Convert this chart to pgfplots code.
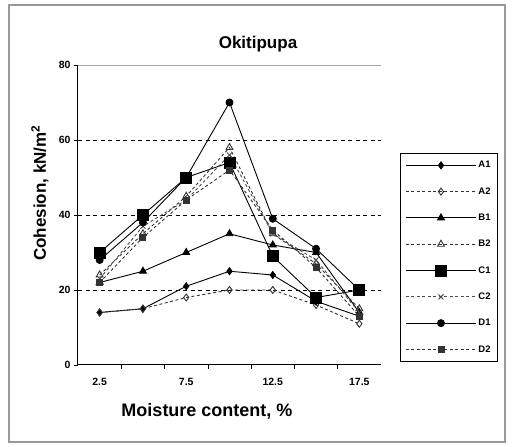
\documentclass[border=0pt]{standalone}
\usepackage{fontspec}
\setmainfont{Liberation Sans}
\usepackage{pgfplots}
\pgfplotsset{compat=1.18}
\begin{document}
\begin{tikzpicture}[x=1pt,y=1pt]
\useasboundingbox (0,0) rectangle (512,447);
\draw[black!40, line width=1.2pt] (9,5) rectangle (505,442);
\node[font=\fontsize{17}{19}\selectfont\bfseries] at (258,403) {Okitipupa};
\node[font=\fontsize{18}{20}\selectfont\bfseries] at (207,36) {Moisture content, \%};
\node[font=\fontsize{17}{19}\selectfont\bfseries, rotate=90] at (40,254) {Cohesion, kN/m\textsuperscript{2}};
\begin{axis}[
  at={(78pt,82pt)}, anchor=south west,
  width=303pt, height=300pt, scale only axis,
  xmin=1.25, xmax=18.75, ymin=0, ymax=80,
  axis x line*=bottom, axis y line*=left,
  axis line style={-, black, line width=1pt},
  xtick={2.5,7.5,12.5,17.5}, xticklabels={2.5,7.5,12.5,17.5},
  major x tick style={draw=none},
  minor xtick={3.75,6.25,8.75,11.25,13.75,16.25},
  minor x tick style={black, line width=0.6pt},
  minor tick length=4pt,
  ytick={0,20,40,60,80},
  major y tick style={black, line width=0.6pt},
  major tick length=4pt,
  tick align=outside,
  tick label style={font=\fontsize{10.5}{12}\selectfont\bfseries},
  /pgf/number format/assume math mode=true,
  xticklabel style={yshift=-6pt},
  legend cell align=left,
  legend style={at={(1.063,0.707)}, anchor=north west, draw=black, line width=0.9pt,
    font=\fontsize{9.5}{10}\selectfont\bfseries, row sep=14.2pt, inner ysep=6pt, inner xsep=5pt},
  legend image code/.code={\draw[mark repeat=2,mark phase=2,#1] plot coordinates {(0pt,0pt) (35pt,0pt) (70pt,0pt)};},
  clip=false,
]
\draw[black!35, line width=0.8pt] (axis cs:1.25,80) -- (axis cs:18.75,80);
\foreach \yy in {20,40,60} {
  \edef\temp{\noexpand\draw[black, line width=0.9pt, dash pattern=on 4pt off 3.5pt] (axis cs:1.25,\yy) -- (axis cs:18.75,\yy);}
  \temp
}
% A1
\addplot[black, line width=0.9pt, mark=diamond*, mark size=3.5pt] coordinates {(2.5,14) (5,15) (7.5,21) (10,25) (12.5,24) (15,17) (17.5,13)};
\addlegendentry{A1}
% A2
\addplot[black!80, line width=0.9pt, dash pattern=on 3pt off 2.5pt, mark=diamond, mark options={solid, fill=white}, mark size=3.5pt] coordinates {(2.5,14) (5,15) (7.5,18) (10,20) (12.5,20) (15,16) (17.5,11)};
\addlegendentry{A2}
% B1
\addplot[black, line width=0.9pt, mark=triangle*, mark size=4pt] coordinates {(2.5,22) (5,25) (7.5,30) (10,35) (12.5,32) (15,30) (17.5,14)};
\addlegendentry{B1}
% B2
\addplot[black!80, line width=0.9pt, dash pattern=on 3pt off 2.5pt, mark=triangle, mark options={solid, fill=white}, mark size=4pt] coordinates {(2.5,24) (5,35) (7.5,45) (10,58) (12.5,35) (15,27) (17.5,15)};
\addlegendentry{B2}
% C1
\addplot[black, line width=0.9pt, mark=square*, mark size=5.5pt] coordinates {(2.5,30) (5,40) (7.5,50) (10,54) (12.5,29) (15,18) (17.5,20)};
\addlegendentry{C1}
% C2
\addplot[black!70, line width=0.9pt, dash pattern=on 3pt off 2.5pt, mark=x, mark options={solid}, mark size=3.5pt] coordinates {(2.5,23) (5,37) (7.5,44) (10,56) (12.5,35) (15,28) (17.5,14)};
\addlegendentry{C2}
% D1
\addplot[black, line width=0.9pt, mark=*, mark size=3.5pt] coordinates {(2.5,28) (5,38) (7.5,50) (10,70) (12.5,39) (15,31) (17.5,20)};
\addlegendentry{D1}
% D2
\addplot[black!80, line width=0.9pt, dash pattern=on 3pt off 2.5pt, mark=square*, mark options={solid}, mark size=3pt] coordinates {(2.5,22) (5,34) (7.5,44) (10,52) (12.5,36) (15,26) (17.5,13)};
\addlegendentry{D2}
\end{axis}
\end{tikzpicture}
\end{document}
